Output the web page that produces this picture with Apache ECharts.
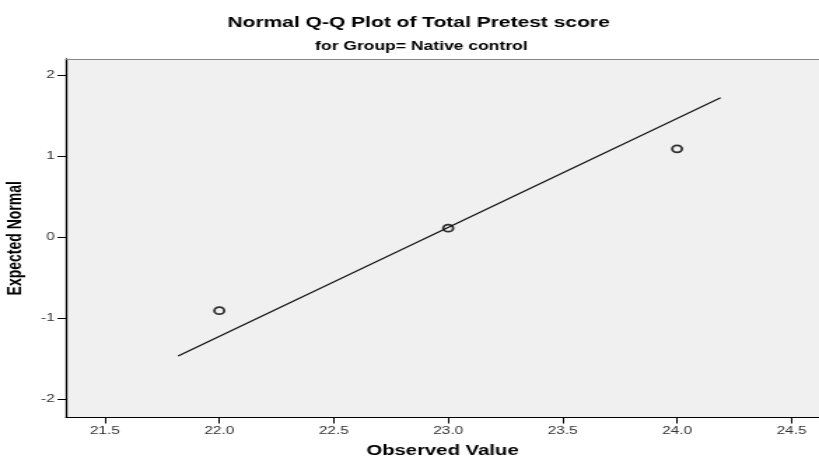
<!DOCTYPE html>
<html>
<head>
<meta charset="utf-8">
<script src="https://cdn.jsdelivr.net/npm/echarts@6/dist/echarts.min.js"></script>
<style>
html,body{margin:0;padding:0;background:#fff;overflow:hidden}
#wrap{width:819px;height:457px;overflow:hidden}
#c{width:585px;height:457px;transform:scaleX(1.4);transform-origin:0 0}
</style>
</head>
<body>
<div id="wrap"><div id="c"></div></div>
<script>
const observed = [22.0, 23.0, 24.0];
const expectedNormal = [-0.91, 0.11, 1.09];
const lineX = [21.82, 24.19];
const lineY = [-1.47, 1.72];
const xTicks = [21.5, 22.0, 22.5, 23.0, 23.5, 24.0, 24.5];
const yTicks = [-2, -1, 0, 1, 2];

const chart = echarts.init(document.getElementById('c'));
const sans = '"Liberation Sans", Arial, sans-serif';
chart.setOption({
  animation: false,
  backgroundColor: '#ffffff',
  title: [
    {text: 'Normal Q-Q Plot of Total Pretest score', left: 294, top: 10, textAlign: 'center',
     textStyle: {fontFamily: sans, fontWeight: 'bold', fontSize: 15, color: '#000'}},
    {text: 'for Group= Native control', left: 296, top: 35, textAlign: 'center',
     textStyle: {fontFamily: sans, fontWeight: 'bold', fontSize: 12.5, color: '#000'}}
  ],
  grid: {left: 47.1, right: 0, top: 59, bottom: 39.5, show: true, backgroundColor: '#f0f0f0',
         borderWidth: 0, containLabel: false, outerBoundsMode: 'none'},
  xAxis: [{
    type: 'value', min: 21.33, max: 24.62,
    name: 'Observed Value', nameLocation: 'middle', nameGap: 26,
    nameTextStyle: {fontFamily: sans, fontWeight: 'bold', fontSize: 14.5, color: '#000'},
    axisLine: {show: true, onZero: false, lineStyle: {color: '#000', width: 1}},
    axisTick: {show: true, length: 6, lineStyle: {color: '#000'}, customValues: xTicks},
    axisLabel: {fontFamily: sans, fontSize: 11, color: '#333', margin: 8, customValues: xTicks,
      formatter: v => v.toFixed(1)},
    splitLine: {show: false}
  }, {
    type: 'value', position: 'top', min: 21.33, max: 24.62,
    axisLine: {show: true, onZero: false, lineStyle: {color: '#888', width: 1}},
    axisTick: {show: false}, axisLabel: {show: false}, splitLine: {show: false}
  }],
  yAxis: {
    type: 'value', min: -2.23, max: 2.2,
    name: 'Expected Normal', nameLocation: 'middle', nameGap: 26, nameRotate: 90,
    nameTextStyle: {fontFamily: sans, fontWeight: 'bold', fontSize: 14, color: '#000'},
    axisLine: {show: true, onZero: false, lineStyle: {color: '#000', width: 1.3}},
    axisTick: {show: true, length: 6, lineStyle: {color: '#000'}, customValues: yTicks},
    axisLabel: {fontFamily: sans, fontSize: 11, color: '#333', margin: 8, customValues: yTicks},
    splitLine: {show: false}
  },
  series: [{
    type: 'line', data: lineX.map((x, i) => [x, lineY[i]]),
    symbol: 'none', lineStyle: {color: '#111', width: 1.2}, silent: true
  }, {
    type: 'scatter', data: observed.map((x, i) => [x, expectedNormal[i]]),
    symbol: 'circle', symbolSize: 7,
    itemStyle: {color: 'rgba(0,0,0,0)', borderColor: '#000', borderWidth: 1.8}
  }]
});
</script>
</body>
</html>
